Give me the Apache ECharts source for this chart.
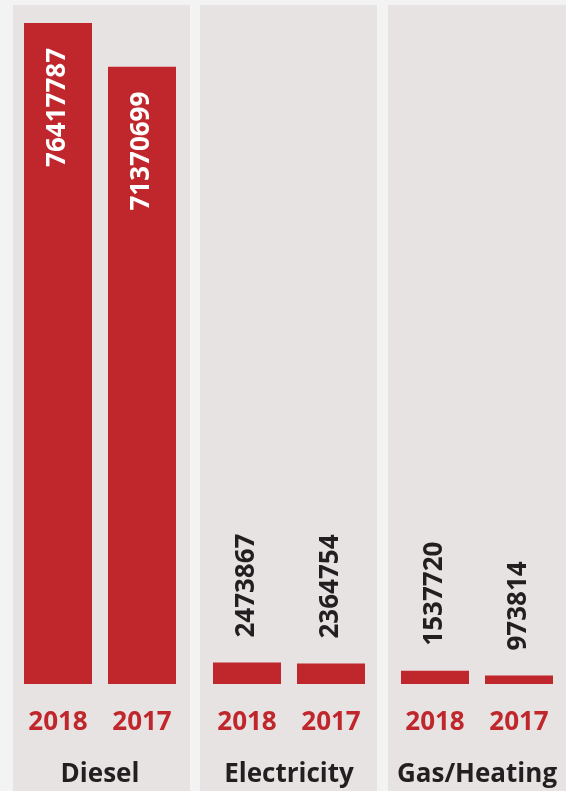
<!DOCTYPE html>
<html>
<head>
<meta charset="utf-8">
<style>
html,body{margin:0;padding:0;background:#f3f3f3;}
#chart{width:566px;height:791px;}
</style>
<script src="https://cdn.jsdelivr.net/npm/echarts@6/dist/echarts.min.js"></script>
</head>
<body>
<div id="chart"></div>
<script>
const categories = ['Diesel', 'Electricity', 'Gas/Heating'];
const years = ['2018', '2017'];
const diesel = [76417787, 71370699];
const electricity = [2473867, 2364754];
const gasHeating = [1537720, 973814];

const groups = [diesel, electricity, gasHeating];
const maxVal = Math.max(...groups.flat());

const RED = '#c0272d';
const DARK = '#231f20';
const FONT = '"Open Sans", sans-serif';

const gridLefts = [16, 205, 393];
const panels = [[13, 177], [200, 177], [388, 178]];

const chart = echarts.init(document.getElementById('chart'));

const grid = [], xAxis = [], yAxis = [], series = [];
groups.forEach((vals, i) => {
  grid.push({left: gridLefts[i], width: 168, top: 23, bottom: 107, outerBoundsMode: 'none', containLabel: false});
  xAxis.push({
    type: 'category', gridIndex: i, data: years,
    axisLine: {show: false}, axisTick: {show: false},
    axisLabel: {color: RED, fontFamily: FONT, fontWeight: 'bold', fontSize: 26, margin: 26},
    name: categories[i], nameLocation: 'middle', nameGap: 78,
    nameTextStyle: {color: DARK, fontFamily: FONT, fontWeight: 'bold', fontSize: 26}
  });
  yAxis.push({type: 'value', gridIndex: i, min: 0, max: maxVal, show: false, splitLine: {show: false}});
  series.push({
    type: 'bar', xAxisIndex: i, yAxisIndex: i, barWidth: 68,
    itemStyle: {color: RED},
    data: vals.map(v => {
      const inside = v > maxVal * 0.2;
      return {
        value: v,
        label: inside ? {
          show: true, position: 'insideTop', rotate: 90, align: 'right', verticalAlign: 'middle',
          distance: 25, color: '#ffffff', fontFamily: FONT, fontWeight: 'bold', fontSize: 26
        } : {
          show: true, position: 'top', rotate: 90, align: 'left', verticalAlign: 'middle',
          distance: 25, color: DARK, fontFamily: FONT, fontWeight: 'bold', fontSize: 26
        }
      };
    })
  });
});

chart.setOption({
  backgroundColor: '#f3f3f3',
  animation: false,
  graphic: panels.map(p => ({
    type: 'rect', z: -10, silent: true,
    shape: {x: p[0], y: 5, width: p[1], height: 800},
    style: {fill: '#e8e3e3'}
  })),
  grid, xAxis, yAxis, series
});
</script>
</body>
</html>
